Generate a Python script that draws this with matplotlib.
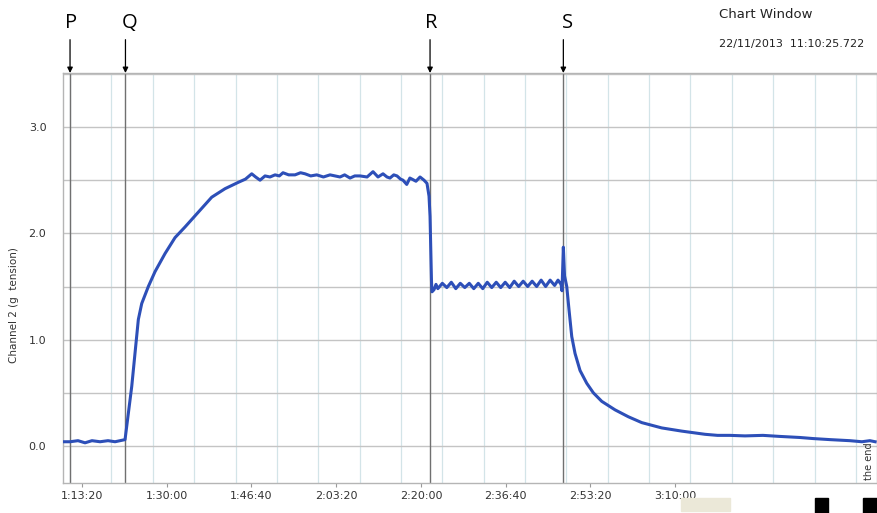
import numpy as np
import matplotlib
matplotlib.use("Agg")
import matplotlib.pyplot as plt
from matplotlib.patches import Rectangle

# =========================
# DATA (time in seconds, tension in g)
# =========================
time_s = [
    4177, 4260, 4354, 4437, 4519, 4614, 4708, 4791, 4850, 4909,
    4948, 4988, 5027, 5066, 5106, 5184, 5263, 5381, 5499, 5617,
    5774, 5932, 6089, 6246, 6330, 6404, 6450, 6502, 6561, 6620,
    6679, 6730, 6773, 6840, 6915, 6980, 7033, 7100, 7171, 7250,
    7328, 7390, 7446, 7500, 7564, 7620, 7682, 7765, 7835, 7894,
    7953, 8000, 8035, 8080, 8118, 8160, 8189, 8233, 8270, 8295,
    8342, 8390, 8437, 8472, 8496, 8508, 8519, 8525, 8531, 8555, 8578,
    8600, 8653, 8706, 8759, 8812, 8865, 8918, 8971, 9024, 9077,
    9130, 9183, 9236, 9289, 9342, 9395, 9448, 9501, 9554, 9607,
    9660, 9713, 9766, 9819, 9872, 9925, 9978, 10018,
    10054, 10065, 10081, 10095, 10121, 10148, 10180, 10219, 10278, 10357,
    10435, 10534, 10691, 10848, 11006, 11242, 11478, 11753, 11900, 12047,
    12224, 12436, 12637, 12873, 13027, 13227, 13463, 13604, 13698, 13760,
]
tension_g = [
    0.04, 0.04, 0.05, 0.03, 0.05, 0.04, 0.05, 0.04, 0.05, 0.06,
    0.31, 0.56, 0.88, 1.19, 1.34, 1.50, 1.64, 1.81, 1.96, 2.06,
    2.20, 2.34, 2.42, 2.48, 2.51, 2.56, 2.53, 2.50, 2.54, 2.53,
    2.55, 2.54, 2.57, 2.55, 2.55, 2.57, 2.56, 2.54, 2.55, 2.53,
    2.55, 2.54, 2.53, 2.55, 2.52, 2.54, 2.54, 2.53, 2.58, 2.53,
    2.56, 2.53, 2.52, 2.55, 2.54, 2.51, 2.50, 2.46, 2.52, 2.51,
    2.49, 2.53, 2.50, 2.47, 2.35, 2.16, 1.75, 1.55, 1.45, 1.47, 1.52,
    1.48, 1.53, 1.49, 1.54, 1.48, 1.53, 1.49, 1.53, 1.48, 1.53,
    1.48, 1.54, 1.49, 1.54, 1.49, 1.54, 1.49, 1.55, 1.50, 1.55,
    1.50, 1.55, 1.50, 1.56, 1.50, 1.56, 1.51, 1.56,
    1.52, 1.46, 1.87, 1.60, 1.50, 1.28, 1.03, 0.87, 0.71, 0.59,
    0.50, 0.42, 0.34, 0.275, 0.22, 0.17, 0.14, 0.11, 0.10, 0.10,
    0.095, 0.10, 0.09, 0.08, 0.07, 0.06, 0.05, 0.04, 0.05, 0.04,
]

event_labels = ["P", "Q", "R", "S"]
event_times = [4260, 4914, 8508, 10081]

tick_times = [4400, 5400, 6400, 7400, 8400, 9400, 10400, 11400]
y_ticks = [0.0, 1.0, 2.0, 3.0]


def hms(sec):
    sec = int(round(sec))
    return f"{sec // 3600}:{(sec % 3600) // 60:02d}:{sec % 60:02d}"


# =========================
# FIGURE
# =========================
fig = plt.figure(figsize=(8.78, 5.13), dpi=100)
ax = fig.add_axes([63 / 878, 1 - 483 / 513, 814 / 878, 410 / 513])

ax.set_xlim(4177, 13782)
ax.set_ylim(-0.348, 3.508)

# grid
for gx in np.arange(4261, 13800, 488):
    ax.axvline(gx, color="#d3e4e8", lw=0.9, zorder=0)
for gy in np.arange(0.0, 3.6, 0.5):
    ax.axhline(gy, color="#c4c4c4", lw=1.0, zorder=0)

# event markers
for lab, t in zip(event_labels, event_times):
    ax.axvline(t, color="#707070", lw=1.0, zorder=1)
    ax.annotate("", xy=(t, 3.508), xytext=(0, 24), textcoords="offset points",
                xycoords="data", annotation_clip=False,
                arrowprops=dict(arrowstyle="-|>", color="black", lw=0.9,
                                mutation_scale=8, shrinkA=0, shrinkB=0))
    ax.annotate(lab, xy=(t, 3.508), xytext=(3 if lab in "QS" else 1, 29),
                textcoords="offset points", ha="center", va="bottom",
                fontsize=14.5, family="Open Sans", annotation_clip=False)

ax.plot(time_s, tension_g, color="#2d4fb8", lw=2.2, zorder=3)

for sp in ax.spines.values():
    sp.set_color("#b5b5b5")
    sp.set_linewidth(1.0)

ax.set_xticks(tick_times)
ax.set_xticklabels([hms(t) for t in tick_times])
ax.set_yticks(y_ticks)
ax.set_yticklabels([f"{v:.1f}" for v in y_ticks])
ax.tick_params(axis="x", length=3, color="#999999", labelsize=8, pad=3,
               labelcolor="#333333")
ax.tick_params(axis="y", length=0, labelsize=8, pad=12, labelcolor="#333333")

fig.text(14 / 878, 1 - 305 / 513, "Channel 2 (g  tension)", rotation=90,
         ha="center", va="center", fontsize=7.5, color="#333333")

fig.text(719 / 878, 1 - 14 / 513, "Chart Window", ha="left", va="center",
         fontsize=9.5, color="#222222")
fig.text(719 / 878, 1 - 44 / 513, "22/11/2013  11:10:25.722", ha="left",
         va="center", fontsize=8, color="#222222")

fig.text(869 / 878, 1 - 461 / 513, "the end", rotation=90, ha="center",
         va="center", fontsize=7, color="#333333")

# status bar bits at the bottom
fig.patches.append(Rectangle((681 / 878, 2 / 513), 49 / 878, 13 / 513,
                             transform=fig.transFigure, color="#ebe8d8"))
fig.patches.append(Rectangle((815 / 878, 0), 13 / 878, 15 / 513,
                             transform=fig.transFigure, color="black"))
fig.patches.append(Rectangle((863 / 878, 0), 14 / 878, 15 / 513,
                             transform=fig.transFigure, color="black"))

fig.savefig("out.png", dpi=100)
